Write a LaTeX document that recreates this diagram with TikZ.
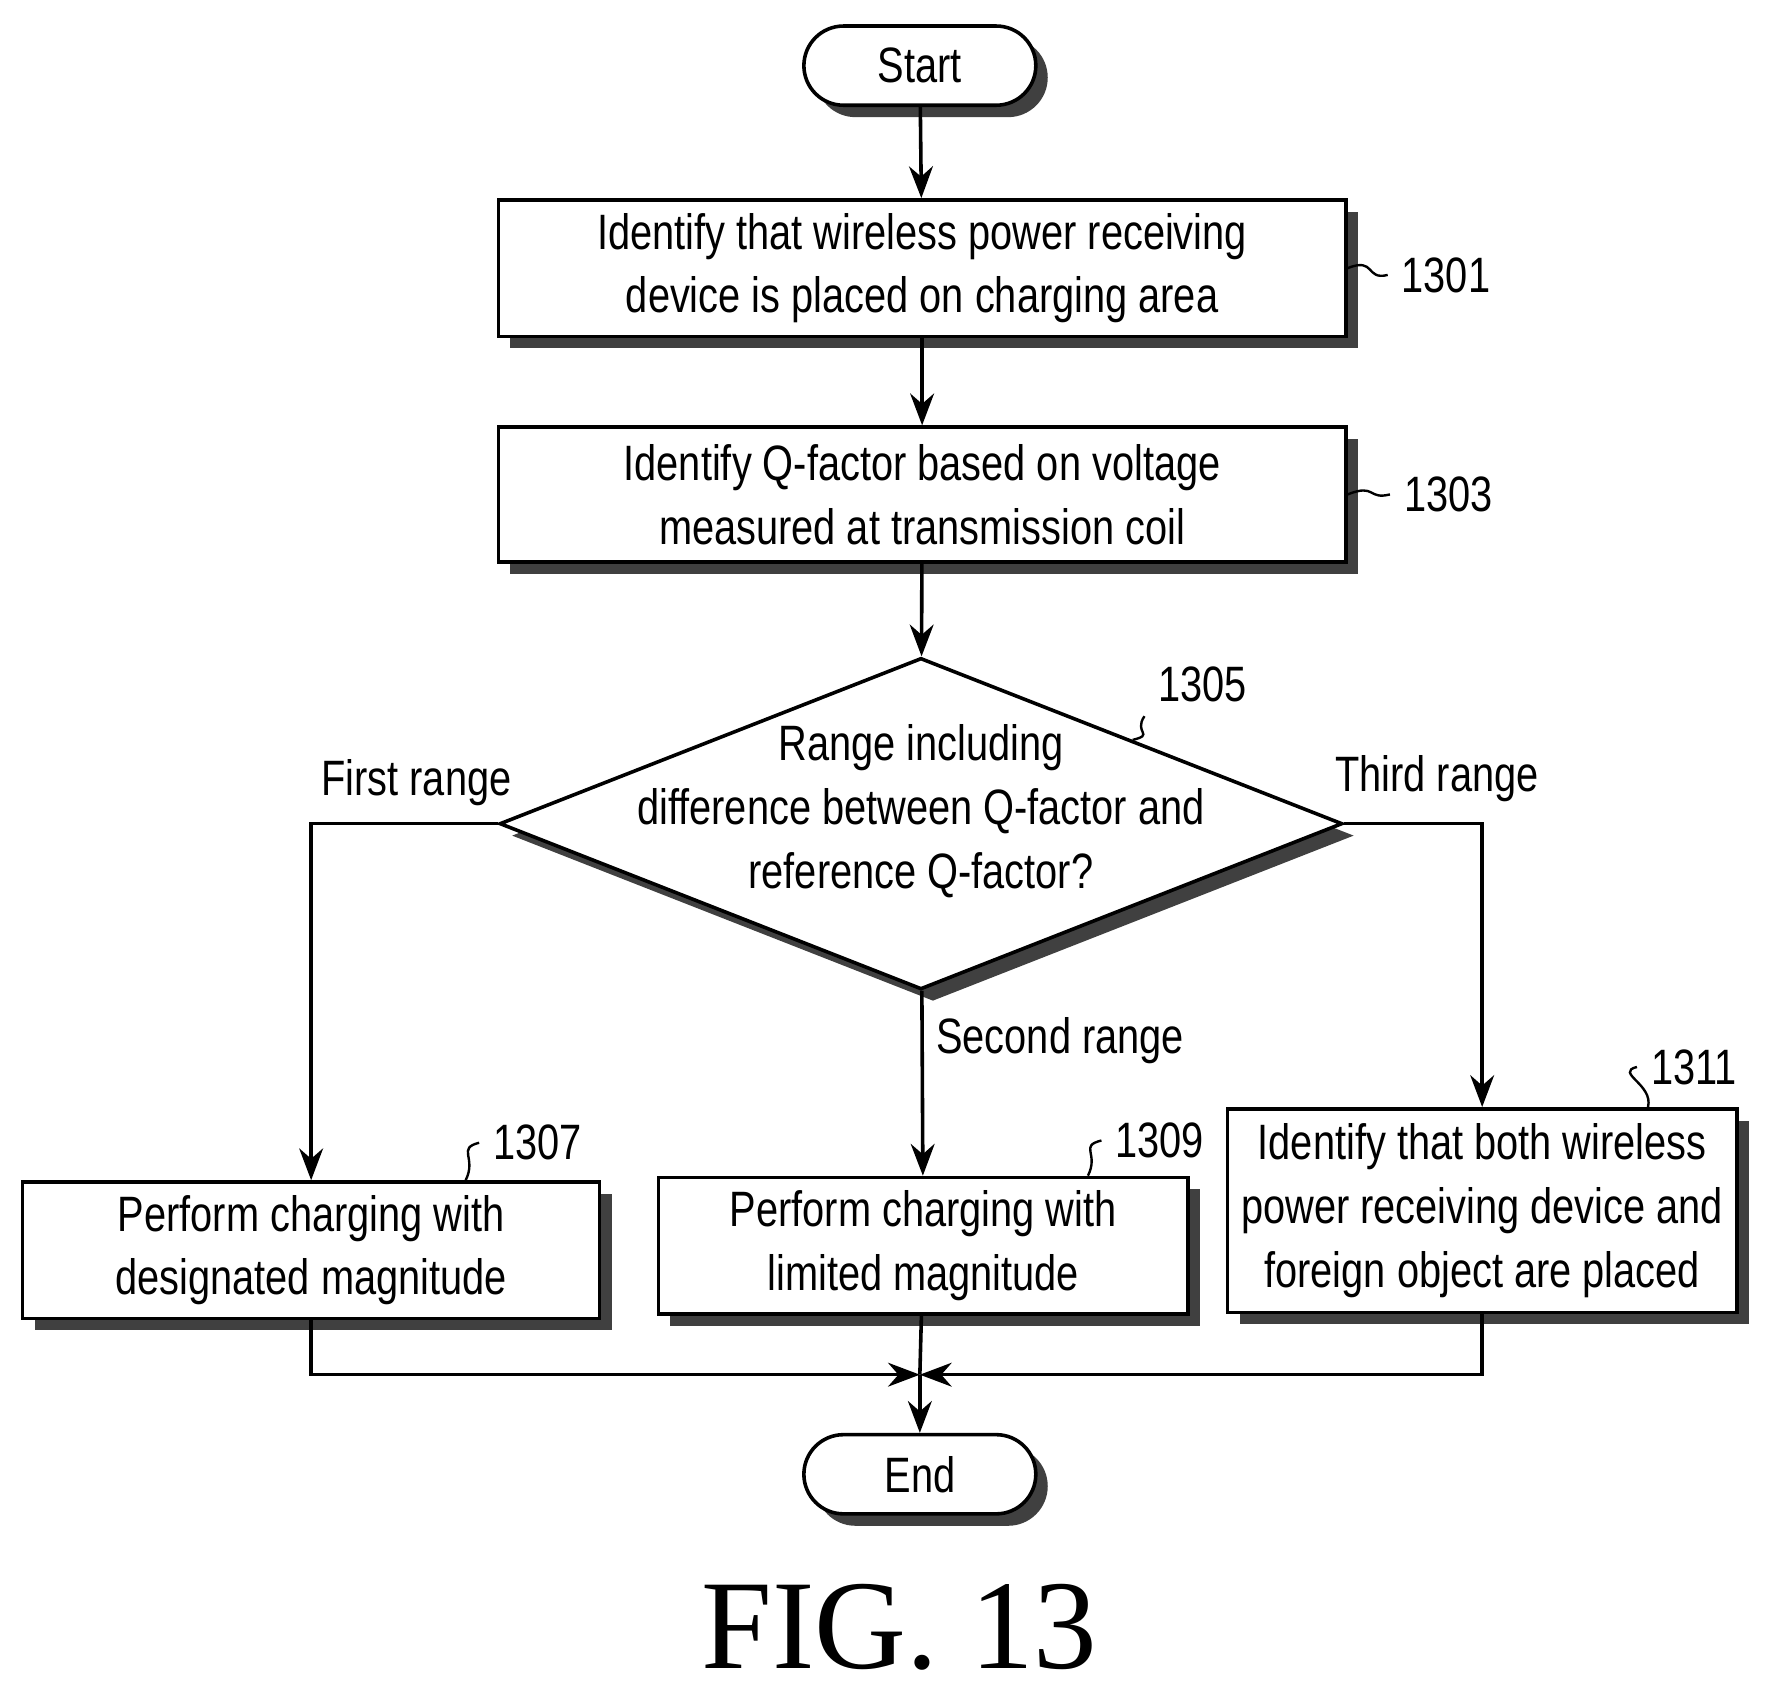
\documentclass[tikz,border=0pt]{standalone}
\usepackage{fontspec}
\setmainfont[FakeStretch=0.8]{Liberation Sans}
\usetikzlibrary{arrows.meta,shapes.geometric,shadows}
\tikzset{
  box/.style={draw, line width=0.9pt, fill=white, align=center, font=\fontsize{12.5}{16}\selectfont,
    drop shadow={shadow xshift=3pt, shadow yshift=-3pt, fill=black!75, opacity=1}},
  term/.style={box, rounded corners=0.35cm, minimum width=2.05cm, minimum height=0.7cm},
  lbl/.style={font=\fontsize{12.5}{16}\selectfont},
  flow/.style={line width=0.9pt, -{Stealth[length=8pt,width=6pt]}},
  lead/.style={line width=0.6pt}
}
\begin{document}
\begin{tikzpicture}
  \useasboundingbox (0,0) rectangle (15.6,-14.89);

  \node[term] (start) at (8.13,-0.58) {Start};
  \node[box, minimum width=7.49cm, minimum height=1.19cm] (b1301) at (8.15,-2.37)
    {Identify that wireless power receiving\\device is placed on charging area};
  \node[box, minimum width=7.49cm, minimum height=1.19cm] (b1303) at (8.15,-4.37)
    {Identify Q-factor based on voltage\\measured at transmission coil};
  \node[box, diamond, aspect=2.54, minimum width=7.45cm, minimum height=2.93cm, inner sep=0pt] (q) at (8.14,-7.28) {};
  \node[lbl, align=center] (qt) at (8.14,-7.17)
    {Range including\\difference between Q-factor and\\reference Q-factor?};
  \node[box, minimum width=5.1cm, minimum height=1.2cm] (b1307) at (2.75,-11.05)
    {Perform charging with\\designated magnitude};
  \node[box, minimum width=4.68cm, minimum height=1.17cm] (b1309) at (8.16,-11.01)
    {Perform charging with\\limited magnitude};
  \node[box, minimum width=4.5cm, minimum height=1.8cm] (b1311) at (13.1,-10.7)
    {Identify that both wireless\\power receiving device and\\foreign object are placed};
  \node[term] (end) at (8.13,-13.03) {End};
  \coordinate (m) at (8.13,-12.15);

  \node[lbl] (l1301) at (12.78,-2.43) {1301};
  \node[lbl] (l1303) at (12.8,-4.37) {1303};
  \node[lbl] (l1305) at (10.63,-6.05) {1305};
  \node[lbl] (l1307) at (4.75,-10.1) {1307};
  \node[lbl] (l1309) at (10.25,-10.08) {1309};
  \node[lbl] (l1311) at (14.97,-9.43) {1311};

  \node[lbl] at (3.68,-6.92) {First range};
  \node[lbl] at (12.7,-6.88) {Third range};
  \node[lbl] at (9.37,-9.2) {Second range};

  \draw[flow] (start) -- (b1301);
  \draw[flow] (b1301) -- (b1303);
  \draw[flow] (b1303) -- (q);
  \draw[flow] (q.west) -| (b1307.north);
  \draw[flow] (q) -- (b1309);
  \draw[flow] (q.east) -| (b1311.north);
  \draw[flow] (b1307.south) |- (m);
  \draw[flow] (b1311.south) |- (m);
  \draw[line width=0.9pt] (b1309) -- (m);
  \draw[flow] (m) -- (end);

  \draw[lead] (b1301.east) .. controls +(0.25,0.1) and +(-0.2,-0.05) .. (l1301.west);
  \draw[lead] (b1303.east) .. controls +(0.25,0.1) and +(-0.2,-0.05) .. (l1303.west);
  \draw[lead] (q.north east) .. controls +(0.2,0.05) and +(-0.1,-0.15) .. (l1305.south west);
  \draw[lead] ([xshift=-1.2cm]b1307.north east) .. controls +(0.1,0.2) and +(-0.2,-0.05) .. (l1307.west);
  \draw[lead] ([xshift=-0.9cm]b1309.north east) .. controls +(0.1,0.2) and +(-0.2,-0.05) .. (l1309.west);
  \draw[lead] ([xshift=-0.8cm]b1311.north east) .. controls +(0.05,0.2) and +(-0.2,-0.05) .. (l1311.west);

  \node[font=\fontspec{Liberation Serif}\fontsize{32}{36}\selectfont] (fig) at (7.95,-14.38) {FIG. 13};
\end{tikzpicture}
\end{document}
